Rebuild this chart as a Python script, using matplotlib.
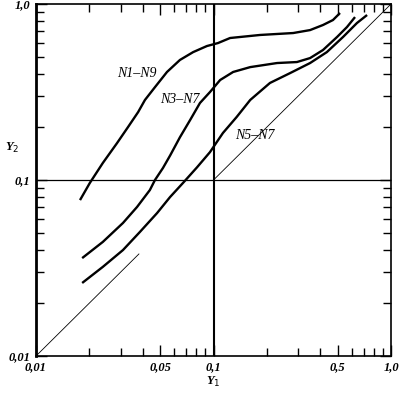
import matplotlib
matplotlib.use("Agg")
import matplotlib.pyplot as plt
from matplotlib.ticker import LogLocator, FixedLocator, FixedFormatter, NullFormatter

# curves (Y1, Y2)
n1_x = [0.0177, 0.0201, 0.0238, 0.0286, 0.0330, 0.0376, 0.0411, 0.0468, 0.0547, 0.0647,
        0.0768, 0.0918, 0.106, 0.124, 0.183, 0.281, 0.350, 0.414, 0.471, 0.516]
n1_y = [0.0769, 0.0962, 0.125, 0.162, 0.200, 0.243, 0.285, 0.337, 0.411, 0.481,
        0.533, 0.577, 0.600, 0.641, 0.667, 0.684, 0.711, 0.760, 0.811, 0.889]

n3_x = [0.0182, 0.0238, 0.0309, 0.0371, 0.0438, 0.0468, 0.0519, 0.0570, 0.0647, 0.0738,
        0.0839, 0.0955, 0.109, 0.129, 0.161, 0.228, 0.295, 0.350, 0.414, 0.497, 0.565, 0.627]
n3_y = [0.0360, 0.0445, 0.0570, 0.0703, 0.0877, 0.100, 0.117, 0.138, 0.175, 0.219,
        0.274, 0.316, 0.370, 0.411, 0.438, 0.462, 0.468, 0.493, 0.548, 0.650, 0.740, 0.843]

n5_x = [0.0182, 0.0238, 0.0309, 0.0385, 0.0481, 0.0569, 0.0673, 0.0807, 0.0955, 0.113,
        0.135, 0.161, 0.208, 0.270, 0.350, 0.435, 0.537, 0.643, 0.733]
n5_y = [0.0260, 0.0321, 0.0400, 0.0507, 0.0649, 0.0800, 0.0962, 0.118, 0.144, 0.185,
        0.228, 0.285, 0.356, 0.405, 0.462, 0.533, 0.650, 0.780, 0.866]

curve_names = ["N1–N9", "N3–N7", "N5–N7"]
label_pos = [(0.037, 0.405), (0.0647, 0.285), (0.171, 0.180)]

x_ticks = [0.01, 0.05, 0.1, 0.5, 1.0]
x_ticklabels = ["0,01", "0,05", "0,1", "0,5", "1,0"]
y_ticks = [0.01, 0.1, 1.0]
y_ticklabels = ["0,01", "0,1", "1,0"]

plt.rcParams["font.family"] = ["Liberation Serif", "DejaVu Serif"]

fig = plt.figure(figsize=(3.99, 3.93), dpi=100)
ax = fig.add_axes([0.0902, 0.0941, 0.8898, 0.8957])
ax.set_xscale("log")
ax.set_yscale("log")
ax.set_xlim(0.01, 1.0)
ax.set_ylim(0.01, 1.0)

for xs, ys in [(n1_x, n1_y), (n3_x, n3_y), (n5_x, n5_y)]:
    ax.plot(xs, ys, color="black", lw=1.7, solid_joinstyle="round", solid_capstyle="butt")

# diagonal y = x, drawn in two pieces
ax.plot([0.01, 0.038], [0.01, 0.038], color="black", lw=0.6)
ax.plot([0.1, 1.0], [0.1, 1.0], color="black", lw=0.6)

ax.axvline(0.1, color="black", lw=1.5)
ax.axhline(0.1, color="black", lw=0.9)

for name, (tx, ty) in zip(curve_names, label_pos):
    ax.text(tx, ty, name, fontsize=10, style="italic", ha="center", va="center")

for sp in ax.spines.values():
    sp.set_linewidth(1.2)
ax.spines["left"].set_linewidth(2)

ax.xaxis.set_major_locator(FixedLocator(x_ticks))
ax.xaxis.set_major_formatter(FixedFormatter(x_ticklabels))
ax.yaxis.set_major_locator(FixedLocator(y_ticks))
ax.yaxis.set_major_formatter(FixedFormatter(y_ticklabels))
ax.xaxis.set_minor_locator(LogLocator(base=10, subs=[2, 3, 4, 6, 7, 8, 9]))
ax.yaxis.set_minor_locator(LogLocator(base=10, subs=[2, 3, 4, 5, 6, 7, 8, 9]))
ax.xaxis.set_minor_formatter(NullFormatter())
ax.yaxis.set_minor_formatter(NullFormatter())
ax.tick_params(which="both", direction="in", top=True, right=True, width=1.0)
ax.tick_params(which="major", length=8, pad=4)
ax.tick_params(which="minor", length=6)
for lab in ax.get_xticklabels() + ax.get_yticklabels():
    lab.set_fontstyle("italic")
    lab.set_fontweight("bold")
    lab.set_fontsize(9)

ax.text(-0.068, 0.59, "Y$_2$", transform=ax.transAxes, fontsize=9, style="italic",
        ha="center", va="center", fontweight="bold")
ax.text(0.5, -0.075, "Y$_1$", transform=ax.transAxes, fontsize=9, style="italic",
        ha="center", va="center", fontweight="bold")

fig.savefig("out.png", dpi=100)
